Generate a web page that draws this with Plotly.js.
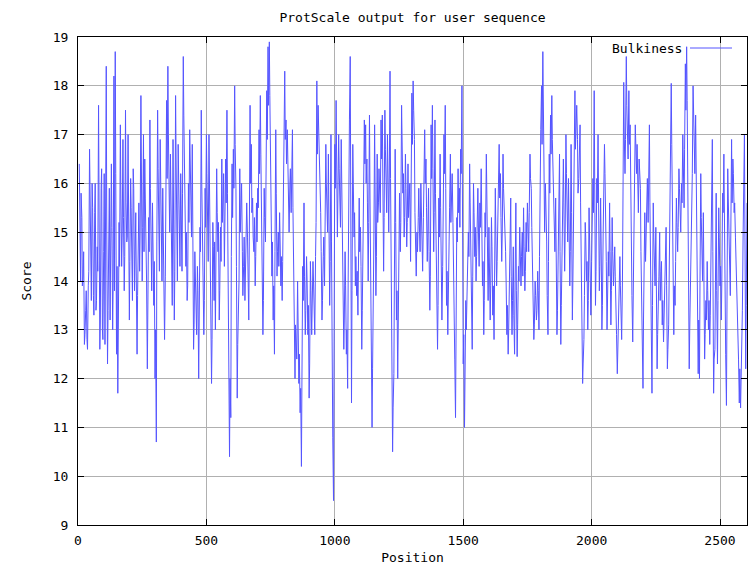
<!DOCTYPE html>
<html>
<head>
<meta charset="utf-8">
<script src="https://cdn.plot.ly/plotly-3.0.1.min.js"></script>
<style>html,body{margin:0;padding:0;background:#fff;}#chart{width:752px;height:565px;}</style>
</head>
<body>
<div id="chart"></div>
<script>
// ProtScale Bulkiness profile.
// scores: readings every 5 positions starting at 5; midScores: readings 2 positions after each of them.
const seriesName = "Bulkiness";
const firstPosition = 5;
const positionStep = 5;
const midOffset = 2;
const scores = [
// 5 - 265
16.4,14.0,15.3,14.1,12.7,13.4,12.8,13.9,16.7,14.4,16.0,13.7,15.4,13.4,14.7,17.6,12.6,15.9,13.0,14.6,
12.7,18.4,12.3,15.0,13.2,16.4,13.0,18.2,18.7,12.5,11.7,15.2,17.2,14.3,16.9,13.8,17.5,14.8,17.0,13.2,
16.1,14.3,16.3,13.8,15.4,12.5,15.2,14.2,17.8,14.0,17.0,16.5,14.8,
// 270 - 525
12.2,15.3,17.3,14.3,15.6,13.5,12.0,10.7,17.5,14.9,16.9,14.7,15.9,13.3,14.1,17.7,18.4,15.8,16.6,14.0,
16.9,13.2,17.8,14.6,16.8,15.0,16.2,14.2,18.6,16.5,14.3,13.6,16.0,17.1,15.6,16.8,12.6,14.6,13.4,14.3,
12.0,15.1,17.5,14.5,12.9,15.9,17.0,14.9,17.0,13.6,11.9,15.2,
// 530 - 790
13.6,13.0,16.3,14.6,13.2,15.1,16.5,15.7,14.3,16.5,17.5,13.2,10.4,11.2,16.4,16.7,18.0,15.9,11.6,13.3,
16.3,15.6,14.6,14.3,13.6,15.1,14.9,13.2,17.6,16.8,15.7,14.6,13.9,15.6,15.9,17.1,17.8,15.0,12.9,15.9,
14.8,17.9,18.8,18.9,16.7,14.1,13.2,12.5,17.1,14.1,15.0,15.4,13.9,
// 795 - 1060
13.6,15.9,18.3,17.3,17.1,15.7,16.0,15.4,17.1,14.2,12.0,12.7,14.0,11.9,11.3,10.2,14.3,15.6,12.9,14.5,
12.9,11.6,14.4,12.9,14.4,13.2,14.5,18.1,17.6,16.8,15.4,13.2,14.5,13.9,16.8,15.6,16.6,13.5,17.0,11.1,
9.5,16.8,17.7,14.9,17.0,15.5,16.9,14.3,12.6,14.6,12.5,11.8,16.9,18.6,
// 1065 - 1325
11.5,16.8,14.9,13.9,13.7,13.3,15.7,15.1,12.6,14.6,17.3,17.2,16.5,14.0,17.4,13.0,11.0,13.4,17.2,13.7,
16.6,15.6,15.9,17.3,17.4,14.2,17.5,16.0,17.0,15.0,18.3,13.9,10.5,12.1,16.7,13.2,12.0,15.3,14.6,17.6,
15.8,14.9,16.6,14.7,16.4,15.7,14.4,17.85,18.1,16.9,14.6,15.0,15.3,
// 1330 - 1590
15.0,16.0,14.5,15.3,17.1,16.5,14.4,15.9,13.4,17.2,17.6,14.6,17.3,14.7,12.6,15.7,16.6,13.7,14.3,17.0,
17.6,13.5,12.9,14.8,16.6,15.9,15.2,13.0,11.2,15.3,16.3,15.9,16.7,18.0,12.3,11.0,13.6,14.1,15.0,16.4,
14.0,12.6,16.0,14.5,14.0,15.4,14.8,15.6,16.3,13.9,12.9,15.4,16.6,
// 1595 - 1855
14.2,15.1,13.2,15.3,13.3,12.8,15.9,13.9,15.1,16.8,16.2,14.4,16.6,15.5,14.6,12.9,12.5,14.2,15.7,12.9,
14.7,12.5,15.6,12.45,14.3,15.1,13.9,15.0,15.5,13.8,15.2,15.6,14.6,16.6,15.9,14.3,12.8,14.0,13.2,14.2,
13.0,16.7,18.0,18.7,15.5,16.0,14.8,12.9,16.6,17.4,17.8,16.3,15.3,
// 1860 - 2120
15.7,12.9,14.5,16.6,12.7,14.9,16.5,14.2,17.0,15.2,16.1,13.9,16.8,13.2,15.5,17.9,17.4,16.9,16.1,17.2,
14.1,11.9,12.8,15.2,14.0,13.0,15.5,13.7,14.4,16.1,17.9,13.5,16.1,17.0,13.8,15.7,13.0,15.0,16.8,15.5,
13.0,14.6,15.6,13.1,15.3,13.9,14.7,13.6,12.1,13.4,14.5,13.1,14.0,
// 2125 - 2605
18.07,16.2,18.6,17.0,17.9,17.2,14.6,12.75,15.0,17.2,16.2,15.9,16.5,15.9,13.3,11.8,14.9,14.4,15.8,15.2,
17.2,14.3,11.7,15.6,14.5,15.1,12.2,13.4,15.0,14.2,13.1,12.75,14.2,15.1,12.2,13.1,16.2,18.05,15.6,12.9,
13.5,15.7,14.6,16.3,15.4,16.0,17.0,15.5,18.45,18.8,16.0,12.2,13.9,15.0,18.0,16.7,17.4,14.8,12.1,12.0,
16.2,14.3,15.4,12.4,13.6,14.4,13.0,12.7,14.3,16.9,11.7,12.6,15.8,12.3,15.5,13.9,13.2,15.8,16.6,13.0,
11.45,16.3,14.9,13.7,16.9,16.5,15.4,14.9,14.2,12.8,11.5,11.4,12.2,15.0,17.0,12.2,15.6
];
const midScores = [
// 7 - 267
15.6,15.8,13.9,14.6,12.9,13.8,12.6,14.2,15.8,13.6,15.5,13.3,16.0,13.6,14.2,16.1,13.2,16.3,12.8,16.2,
17.2,15.0,13.4,15.9,14.7,15.1,14.0,13.8,16.2,14.3,13.0,14.3,15.7,14.9,15.3,14.5,15.6,14.9,15.8,14.4,
15.5,13.6,15.9,14.9,14.0,13.7,15.6,15.0,16.4,15.1,14.6,15.7,14.0,
// 272 - 527
13.5,14.6,15.9,13.8,14.9,14.4,13.0,14.8,16.3,14.2,15.8,14.0,14.8,12.8,15.4,16.1,17.0,15.0,15.6,13.5,
15.4,14.2,16.5,14.0,16.0,14.3,15.5,15.8,17.4,15.2,15.0,13.9,15.2,16.3,14.9,15.1,13.1,14.0,12.9,13.8,
13.4,14.6,16.0,13.9,13.6,15.1,16.2,14.4,15.7,14.1,12.8,14.7,
// 532 - 792
14.8,14.2,15.4,15.2,13.8,14.4,15.2,16.2,15.0,15.6,15.8,12.4,12.0,14.5,15.3,15.9,16.8,14.3,12.7,14.0,
15.0,16.0,13.7,14.9,14.0,15.6,14.2,14.8,16.0,15.4,14.9,15.3,14.5,14.8,15.5,16.2,16.6,14.2,13.6,15.3,
15.6,16.9,17.6,17.8,15.5,14.8,13.9,14.6,15.8,14.6,14.3,14.8,14.5,
// 797 - 1062
14.4,16.6,16.9,16.4,16.5,15.0,16.3,15.9,15.5,13.4,13.1,12.4,13.2,12.5,11.8,12.0,13.6,14.1,13.4,14.0,
13.5,12.3,13.8,13.3,14.0,12.9,15.2,16.6,17.2,16.1,14.6,13.6,14.9,15.0,16.0,15.0,15.2,14.4,14.8,10.8,
12.4,15.9,16.4,15.7,16.3,15.1,15.8,13.6,13.2,13.9,13.0,14.0,17.3,16.3,
// 1067 - 1327
13.8,16.0,15.4,14.5,14.2,14.0,14.6,14.3,13.4,15.3,16.4,16.0,15.6,15.2,15.7,12.6,12.2,14.8,15.4,14.5,
15.2,16.3,15.4,16.5,15.9,15.3,16.7,15.4,16.2,16.0,16.1,12.8,11.4,14.0,15.2,13.8,12.9,15.8,15.2,16.6,
16.2,15.3,15.9,15.2,15.3,16.0,15.6,16.8,17.5,15.4,14.1,14.6,15.9,
// 1332 - 1592
14.6,15.6,14.2,15.8,16.0,15.5,14.9,14.6,14.1,16.1,16.3,15.4,15.8,13.9,13.5,14.9,15.5,13.2,15.4,16.2,
15.9,14.2,13.4,15.5,15.2,16.2,14.0,12.4,12.7,14.8,15.4,15.1,16.2,15.8,12.9,12.2,13.0,14.6,14.5,15.6,
13.5,14.1,15.4,15.1,14.5,15.9,14.3,15.1,15.4,14.4,13.6,14.9,15.8,
// 1597 - 1857
13.6,14.5,13.9,14.7,13.9,14.0,15.0,14.4,15.6,15.7,15.3,15.0,15.9,14.9,14.0,13.5,13.0,14.6,14.1,13.6,
13.3,14.0,13.8,13.1,14.0,14.6,14.5,14.1,14.7,14.2,14.6,15.2,15.4,16.1,15.1,13.6,13.1,13.7,13.4,13.8,
14.5,17.1,16.8,17.2,15.0,15.6,13.7,14.4,15.8,16.6,16.9,15.7,14.6,
// 1862 - 2122
14.8,13.4,15.2,14.6,13.5,15.3,15.6,15.0,16.2,14.8,15.2,14.6,15.4,14.0,16.3,16.7,17.6,15.8,16.5,15.6,
13.3,12.3,13.7,14.9,14.4,13.6,14.9,13.3,15.0,15.4,16.0,14.2,15.6,15.5,14.3,14.8,13.5,15.7,16.2,14.4,
13.6,14.1,14.6,13.8,14.6,14.2,14.1,12.9,12.6,13.2,13.9,12.8,15.8,
// 2127 - 2602
17.0,16.9,17.6,16.5,16.8,15.9,13.7,13.4,16.0,16.6,16.8,15.4,16.0,14.6,12.9,13.2,15.4,14.8,16.1,16.0,
15.6,13.2,13.5,14.9,13.9,13.8,12.9,14.1,13.6,14.4,13.6,13.3,14.5,13.9,12.6,14.2,17.0,16.8,14.3,13.9,
14.4,15.2,15.1,15.9,15.0,15.6,16.4,16.7,17.5,17.7,14.1,13.0,14.5,16.2,17.2,16.2,16.0,13.4,13.2,14.0,
15.3,14.0,13.9,12.9,13.2,13.8,13.6,13.3,15.0,14.6,12.4,14.1,13.8,13.6,14.9,14.3,14.0,15.4,15.0,12.5,
13.6,15.7,14.4,15.0,15.6,16.2,15.6,14.5,13.6,12.4,12.2,11.9,13.4,15.8,14.9,13.5
];

// Merge both readings in position order
const positions = [];
const values = [];
scores.forEach((v, i) => {
  const p = firstPosition + i * positionStep;
  positions.push(p); values.push(v);
  if (i < midScores.length) { positions.push(p + midOffset); values.push(midScores[i]); }
});

const xTickValues = [0, 500, 1000, 1500, 2000, 2500];
const yTickValues = [9, 10, 11, 12, 13, 14, 15, 16, 17, 18, 19];

const lineColor = "#5555ff";
const monoFont = {family: "DejaVu Sans Mono, Liberation Mono, monospace", size: 13, color: "#000"};

const trace = {
  x: positions, y: values, type: "scatter", mode: "lines", name: seriesName,
  line: {color: lineColor, width: 1}, showlegend: false, hoverinfo: "x+y"
};

const axisCommon = {
  showgrid: true, gridcolor: "#b0b0b0", gridwidth: 1,
  showline: true, linecolor: "#000", linewidth: 1, mirror: "allticks",
  ticks: "inside", ticklen: 6, tickcolor: "#000", tickwidth: 1,
  zeroline: false, tickfont: monoFont
};

const layout = {
  width: 752, height: 565,
  margin: {l: 78, r: 5, t: 37, b: 40},
  paper_bgcolor: "#fff", plot_bgcolor: "#fff",
  font: monoFont,
  title: {text: "ProtScale output for user sequence", font: monoFont, x: 0.5, xref: "paper", xanchor: "center", y: 1 - 17/565, yref: "container", yanchor: "middle"},
  xaxis: Object.assign({}, axisCommon, {
    range: [0, 2605], tickvals: xTickValues, ticktext: xTickValues.map(String),
    ticklabelstandoff: 3,
    title: {text: "Position", font: monoFont, standoff: 7}
  }),
  yaxis: Object.assign({}, axisCommon, {
    range: [9, 19], tickvals: yTickValues, ticktext: yTickValues.map(String),
    ticklabelstandoff: 6,
    title: {text: "Score", font: monoFont, standoff: 18}
  }),
  annotations: [{
    text: seriesName, xref: "paper", yref: "paper",
    x: (684 - 78) / 669, y: (525 - 48) / 488, xanchor: "right", yanchor: "middle",
    showarrow: false, font: monoFont
  }],
  shapes: [{
    type: "line", xref: "paper", yref: "paper",
    x0: (690 - 78) / 669, x1: (732 - 78) / 669,
    y0: (525 - 48) / 488, y1: (525 - 48) / 488,
    line: {color: lineColor, width: 1}
  }]
};

Plotly.newPlot("chart", [trace], layout, {displayModeBar: false, staticPlot: true});
</script>
</body>
</html>
